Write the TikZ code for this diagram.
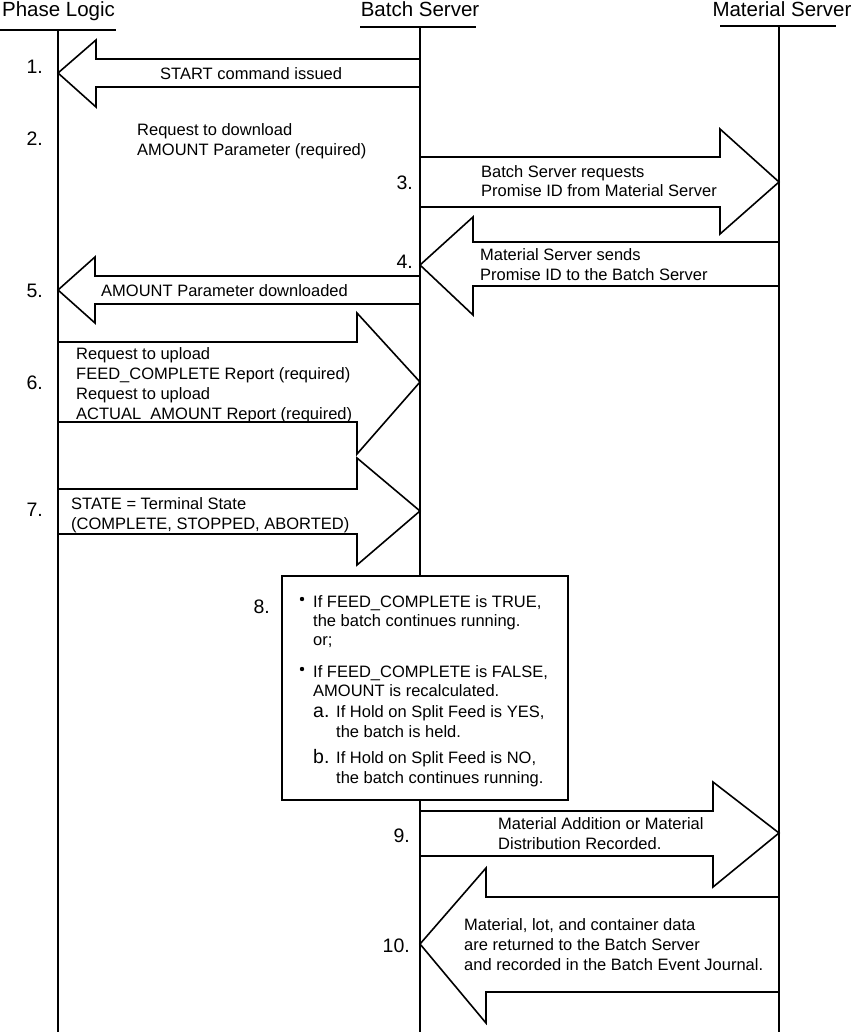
\documentclass[tikz,border=0pt]{standalone}
\usepackage{fontspec}
\setmainfont{Liberation Sans}
\newcommand{\BlkArrow}[8]{\draw[blk] (#1,#4) -- (#6,#4) -- (#6,#7) -- (#2,#3) -- (#6,#8) -- (#6,#5) -- (#1,#5) -- cycle;}
\tikzset{
  lane/.style={line width=1.8pt},
  blk/.style={draw, line width=1.6pt, fill=white, line join=miter},
  boxst/.style={draw, line width=1.6pt, fill=white},
  txt/.style={font=\fontsize{16.5}{20}\selectfont, anchor=base west, inner sep=0pt},
  num/.style={font=\fontsize{19.5}{22}\selectfont, anchor=base east, inner sep=0pt},
  let/.style={font=\fontsize{19.5}{22}\selectfont, anchor=base west, inner sep=0pt},
  hdr/.style={font=\fontsize{20.5}{24}\selectfont, anchor=base, inner sep=0pt},
}
\begin{document}
\begin{tikzpicture}[x=1pt,y=-1pt]
\useasboundingbox (0,0) rectangle (854,1032);
% headers
\node[hdr] (hPL) at (58.5,17) {Phase Logic};
\node[hdr] (hBS) at (420,17) {Batch Server};
\node[hdr] (hMS) at (782,17) {Material Server};
\draw[lane] (0,30) -- (116,30);
\draw[lane] (360,27) -- (476,27);
\draw[lane] (720,26) -- (836,26);
% lifelines
\coordinate (pl0) at (58,30);   \coordinate (pl1) at (58,1032);
\coordinate (bs0) at (420,27);  \coordinate (bs1) at (420,1032);
\coordinate (ms0) at (779,26);  \coordinate (ms1) at (779,1032);
\draw[lane] (pl0) -- (pl1);
\draw[lane] (bs0) -- (bs1);
\draw[lane] (ms0) -- (ms1);
% block arrows
\BlkArrow{420}{58}{73}{59}{87}{96}{40}{107}
\BlkArrow{420}{779}{182}{157}{207}{720}{129}{234}
\BlkArrow{779}{420}{265}{242}{286}{473}{217}{315}
\BlkArrow{420}{58}{290}{276}{304}{95}{257}{323}
\BlkArrow{58}{420}{382}{342}{422}{357}{313}{454}
\BlkArrow{58}{420}{511}{489}{534}{357}{458}{565}
\BlkArrow{420}{779}{833}{811}{856}{713}{782}{887}
\BlkArrow{779}{420}{944}{897}{992}{486}{868}{1023}
% box 8
\draw[boxst] (282,576) rectangle (568,800);
% step numbers
\node[num] (n1) at (43,74) {1.};
\node[num] (n2) at (43,146) {2.};
\node[num] (n3) at (413,190) {3.};
\node[num] (n4) at (413,268) {4.};
\node[num] (n5) at (43,297) {5.};
\node[num] (n6) at (43,389) {6.};
\node[num] (n7) at (43,516) {7.};
\node[num] (n8) at (270,613) {8.};
\node[num] (n9) at (410,842) {9.};
\node[num] (n10) at (410,952) {10.};
% texts
\node[txt] (t1) at (160,80) {START command issued};
\node[txt] (t2a) at (137,136) {Request to download};
\node[txt] (t2b) at (137,156) {AMOUNT Parameter (required)};
\node[txt] (t3a) at (481,178) {Batch Server requests};
\node[txt] (t3b) at (481,197) {Promise ID from Material Server};
\node[txt] (t4a) at (480,260) {Material Server sends};
\node[txt] (t4b) at (480,280) {Promise ID to the Batch Server};
\node[txt] (t5) at (101,296) {AMOUNT Parameter downloaded};
\node[txt] (t6a) at (76,359) {Request to upload};
\node[txt] (t6b) at (76,379) {FEED\_COMPLETE Report (required)};
\node[txt] (t6c) at (76,399) {Request to upload};
\node[txt] (t6d) at (76,419) {ACTUAL\_AMOUNT Report (required)};
\node[txt] (t7a) at (71,509) {STATE = Terminal State};
\node[txt] (t7b) at (71,529) {(COMPLETE, STOPPED, ABORTED)};
\node[txt] (t9a) at (498,829) {Material Addition or Material};
\node[txt] (t9b) at (498,849) {Distribution Recorded.};
\node[txt] (t10a) at (464,930) {Material, lot, and container data};
\node[txt] (t10b) at (464,950) {are returned to the Batch Server};
\node[txt] (t10c) at (464,970) {and recorded in the Batch Event Journal.};
% box text
\fill (302,599) circle (2.2);
\fill (302,669) circle (2.2);
\node[txt] (b1) at (313,607) {If FEED\_COMPLETE is TRUE,};
\node[txt] (b2) at (313,626) {the batch continues running.};
\node[txt] (b3) at (313,645) {or;};
\node[txt] (b4) at (313,677) {If FEED\_COMPLETE is FALSE,};
\node[txt] (b5) at (313,696) {AMOUNT is recalculated.};
\node[let] (ba) at (313,717) {a.};
\node[txt] (b6) at (336,717) {If Hold on Split Feed is YES,};
\node[txt] (b7) at (336,737) {the batch is held.};
\node[let] (bb) at (313,763) {b.};
\node[txt] (b8) at (336,763) {If Hold on Split Feed is NO,};
\node[txt] (b9) at (336,783) {the batch continues running.};
\end{tikzpicture}
\end{document}
